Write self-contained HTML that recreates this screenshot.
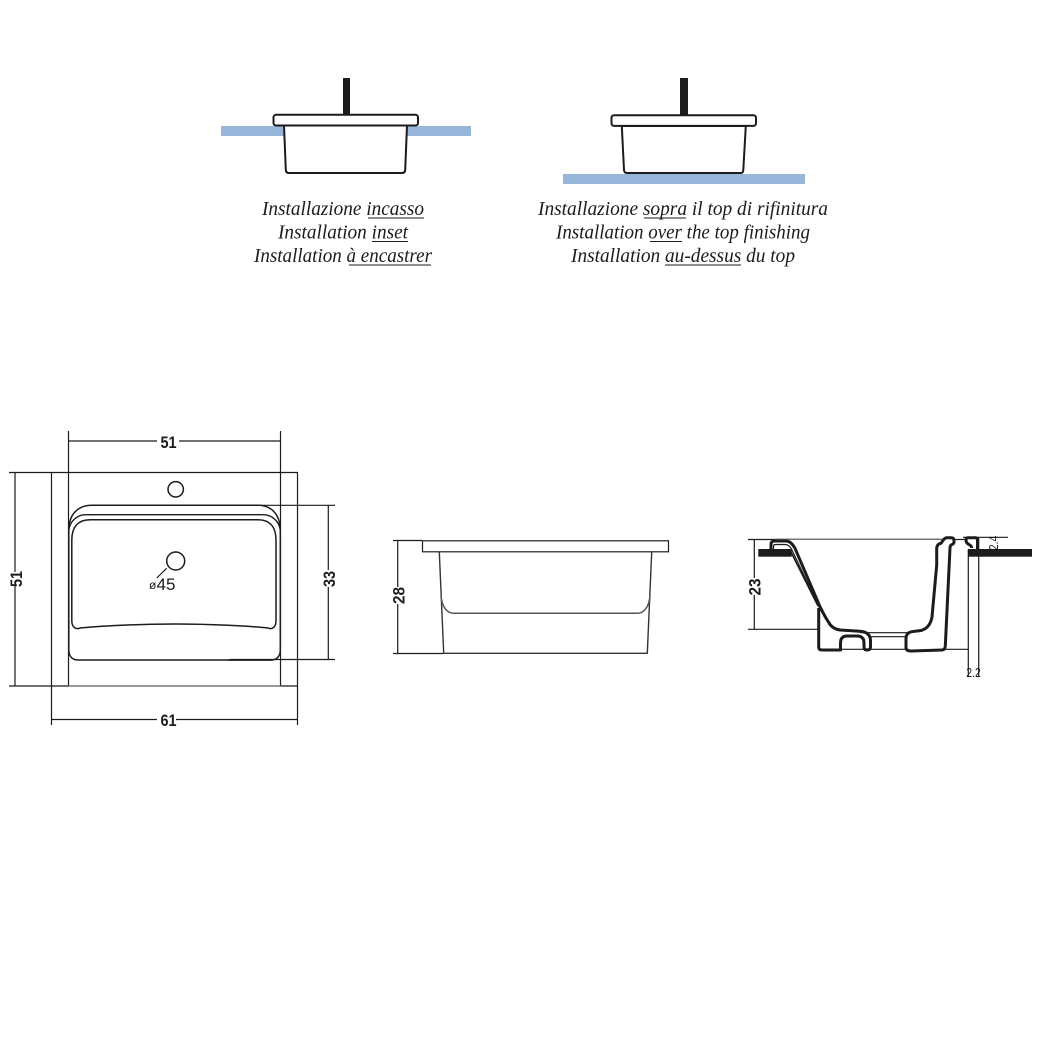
<!DOCTYPE html>
<html><head><meta charset="utf-8"><style>
html,body{margin:0;padding:0;background:#fff}
svg{display:block}
.t{font-family:"Liberation Serif",serif;font-style:italic;font-size:20.5px;fill:#1d1b1b}
.d{font-family:"Liberation Sans",sans-serif;font-weight:700;font-size:17px;fill:#1d1b1b;text-anchor:middle}
.l{stroke:#1d1b1b;stroke-width:1.2;fill:none}
.g{stroke:#555;stroke-width:1.5;fill:none}
.k{stroke:#1d1b1b;stroke-width:2;fill:none;stroke-linejoin:round}
.p{stroke:#1d1b1b;stroke-width:3;fill:#fff;stroke-linejoin:round}
.u{stroke:#1d1b1b;stroke-width:1}
</style></head><body>
<svg xmlns="http://www.w3.org/2000/svg" width="1039" height="1040" viewBox="0 0 1039 1040">
<rect width="1039" height="1040" fill="#fff"/>

<!-- install 1 -->
<rect x="221" y="126" width="250" height="10" fill="#98b5da"/>
<rect x="343" y="78" width="7" height="37" fill="#1d1b1b"/>
<path class="k" d="M284 125.500 L285.800 170 Q286 173 289 173 L402 173 Q405 173 405.200 170 L407 125.500 Z" style="fill:#fff"/>
<rect class="k" x="273.500" y="114.800" width="144.500" height="10.700" rx="2.500" style="fill:#fff"/>

<!-- install 2 -->
<rect x="563" y="174" width="242" height="10" fill="#98b5da"/>
<rect x="680" y="78" width="8" height="37" fill="#1d1b1b"/>
<path class="k" d="M621.800 126 L624 170 Q624.200 173 627 173 L741 173 Q743 173 743.300 170 L745.800 126 Z" style="fill:#fff"/>
<rect class="k" x="611.500" y="115.200" width="144.500" height="10.700" rx="2.500" style="fill:#fff"/>

<!-- captions -->
<text class="t" x="262" y="215" textLength="162" lengthAdjust="spacingAndGlyphs">Installazione incasso</text>
<line class="u" x1="368" y1="218" x2="424" y2="218"/>
<text class="t" x="278" y="238.500" textLength="130" lengthAdjust="spacingAndGlyphs">Installation inset</text>
<line class="u" x1="372" y1="241.500" x2="408" y2="241.500"/>
<text class="t" x="254" y="262" textLength="178" lengthAdjust="spacingAndGlyphs">Installation à encastrer</text>
<line class="u" x1="349" y1="265" x2="431" y2="265"/>

<text class="t" x="538" y="215" textLength="290" lengthAdjust="spacingAndGlyphs">Installazione sopra il top di rifinitura</text>
<line class="u" x1="644" y1="218" x2="686" y2="218"/>
<text class="t" x="556" y="238.500" textLength="254" lengthAdjust="spacingAndGlyphs">Installation over the top finishing</text>
<line class="u" x1="650" y1="241.500" x2="682" y2="241.500"/>
<text class="t" x="571" y="262" textLength="224" lengthAdjust="spacingAndGlyphs">Installation au-dessus du top</text>
<line class="u" x1="665" y1="265" x2="741" y2="265"/>

<!-- plan view -->
<g class="l">
<path d="M68.500 431V686M280.500 431V686"/>
<path d="M68.500 441H157M179 441H280.500"/>
<path d="M9 472.500H297.500V725M51.500 472.500V725"/>
<path d="M9 686H297.500"/>
<path d="M15 472.500V572M15 586V686"/>
<path d="M51.500 719.500H157M176 719.500H297.500"/>
<path d="M213 505.300H335M230 659.500H335"/>
<path d="M328.300 505.300V570M328.300 587V659.500"/>
<path d="M166.700 568.300L156.700 578"/>
</g>
<circle class="k" cx="175.700" cy="489.300" r="7.700" style="stroke-width:1.5"/>
<circle class="k" cx="175.700" cy="561" r="9" style="stroke-width:1.5"/>
<path d="M68.500 686H280.500" stroke="#888" stroke-width="1.6" fill="none"/>
<path class="k" style="stroke-width:1.5" d="M68.800 530C69 514 78 505.300 92 505.300H258C271 505.300 280 514 280.300 530V650C280.300 656 277 660 271 660H78C72 660 68.800 656 68.800 650Z"/>
<path class="k" style="stroke-width:1.4" d="M68.800 530C70 521 77 514.700 86 514.700H263C272 514.700 279 521 280.300 530"/>
<path class="k" style="stroke-width:1.5" d="M71.800 540C71.800 527 78 519.700 90 519.700H258C270 519.700 276 527 276 540V621C276 627 272 630 268 628C250 626 210 624 175.700 624C140 624 100 626 80 628C76 630 71.800 627 71.800 621Z"/>
<path d="M228 660H272" stroke="#1d1b1b" stroke-width="1.6" fill="none"/>

<text class="d" transform="translate(168.500,447.800) scale(.85,1)">51</text>
<text class="d" transform="translate(168.500,726) scale(.85,1)">61</text>
<text class="d" transform="translate(22,579) rotate(-90) scale(.85,1)">51</text>
<text class="d" transform="translate(335,579) rotate(-90) scale(.85,1)">33</text>
<text x="149" y="589" font-family="Liberation Sans,sans-serif" font-size="12" fill="#1d1b1b">ø</text>
<text x="156.500" y="590" font-family="Liberation Sans,sans-serif" font-size="17" fill="#1d1b1b" textLength="19" lengthAdjust="spacingAndGlyphs">45</text>

<!-- side view -->
<g class="l">
<path d="M393 540.500H422M393 653.500H443"/>
<path d="M397.700 540.500V587M397.700 604V653.500"/>
</g>
<rect class="l" x="422.500" y="540.800" width="246" height="11"/>
<path class="k" style="stroke:#333;stroke-width:1.4" d="M439.300 552L443.700 653.300H647.300L651.700 552"/>
<path class="g" d="M441 596C442 607 447 613.300 454 613.300H637C644 613.300 649 607 650 596"/>
<text class="d" transform="translate(404.500,595.500) rotate(-90) scale(.9,1)">28</text>

<!-- section view -->
<g class="l">
<path d="M748 539.500H775M748 629.300H820"/>
<path d="M754.300 539.500V578M754.300 595V629.300"/>
<path d="M860 632.700H908M871 636.700H907M818 649.300H968"/>
<path d="M968.300 549V676M978.700 537.500V676M963 537.300H1008"/>
<path d="M954 539.500H966"/>
</g>
<path d="M775 539.300H945" stroke="#777" stroke-width="1.5" fill="none"/>
<rect x="758.300" y="549" width="33.400" height="7.700" fill="#1d1b1b"/>
<rect x="968.300" y="549" width="63.700" height="7.700" fill="#1d1b1b"/>
<path class="p" style="fill:none" d="M771 549V544Q771 541 775 541H786Q791 541 795 548.300L820 606.700Q825 617 828.300 621.700Q832 629 840 630L860 631.300Q870 632 870.500 640V647Q870.500 650 867 650Q864 650 864 647V643Q864 636 857 636H847Q840.500 636 840.500 643V650H822Q818.700 650 818.700 647V608"/>
<path class="k" style="stroke-width:1.2" d="M773.500 549V546Q773.500 544.500 776 544.500H785Q789 544.500 791.500 549L819 607"/>
<path d="M791 552L818 606" stroke="#1d1b1b" stroke-width="1.6" fill="none"/>
<path class="p" d="M943.300 540Q945 537.700 947 537.700H951Q954 537.700 954 540.500V542Q954 544 951 545Q950 546 950 548L945.300 646Q945 650 942 650L911 651Q906 651 906 647.500V638Q906.500 632 913 631.500L921 630.500Q930 628 932 617L936.700 565V549Q936.700 544 941 543.300Z"/>
<path class="p" style="fill:none" d="M971.700 548Q971.700 546 969 544.500Q966 543 966 540V539.500Q966 537.700 968 537.700H975.500Q977.500 537.700 977.500 540V549"/>

<text class="d" transform="translate(760.500,587) rotate(-90) scale(.9,1)">23</text>
<text class="d" style="font-size:13px;font-weight:400" transform="translate(973.500,677) scale(.8,1)">2.2</text>
<text class="d" style="font-size:13px;font-weight:400" transform="translate(998,543) rotate(-90) scale(.8,1)">2.4</text>
</svg>
</body></html>
